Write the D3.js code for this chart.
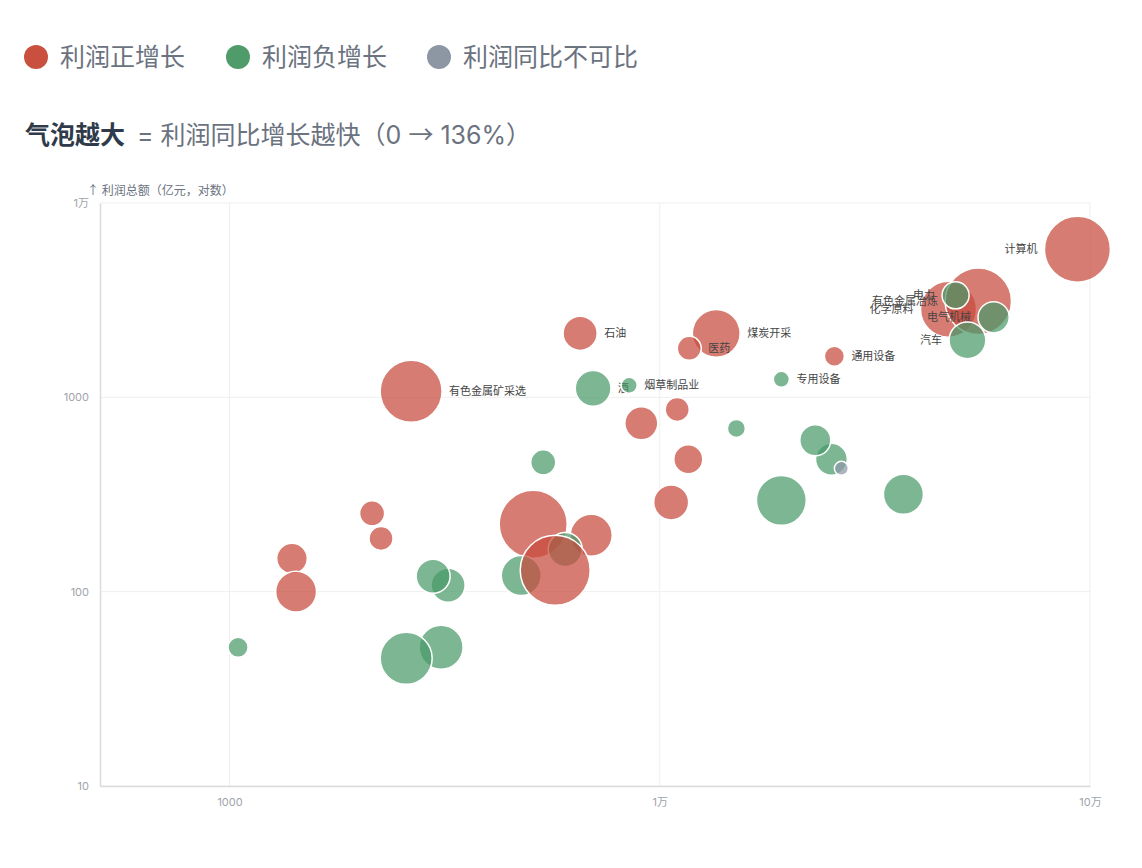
<!DOCTYPE html>
<html><head><meta charset="utf-8">
<script src="https://cdn.jsdelivr.net/npm/d3@7"></script>
<style>
body{margin:0;background:#fff;}
svg{display:block;font-family:Inter,"Noto Sans CJK SC","Noto Sans",sans-serif;}
</style>
</head><body>
<svg id="chart" width="1142" height="868"></svg>
<script>
// ---- data (draw order) ----
const labels = ["计算机","化学原料","有色金属冶炼","电力","电气机械","汽车","石油","煤炭开采","医药","通用设备","专用设备","酒","烟草制品业","有色金属矿采选",
  "","","","","","","","","","","","","","","","","","","","","","","","",""];
// 营业收入（亿元）
const revenue = [93500,46900,55000,48700,59700,51900,6530,13530,11710,25460,19170,7000,8490,2643,
  10980,9060,15070,25060,22990,26430,11650,5360,19170,36840,10630,5080,6930,6030,4765,5715,2145,2250,1397,1428,3222,2973,1047,3103,2574];
// 利润总额（亿元）
const profit = [5780,2840,3120,3350,2580,1965,2135,2135,1787,1626,1238,1113,1153,1074,
  867,735,692,480,601,431,480,463,295,317,288,222,195,165,121,129,253,188,148,100,108,120,51.7,51.7,45.4];
// 利润同比增长（%），null = 不可比
const growth = [118,80,120,-11,-17,-27,22,54,7.4,3.8,-1.4,-25,-1.4,102,
  7.4,20,-2.4,-18,-16.7,null,13.6,-8.5,-60,-34,23.6,127,38.7,-21.8,-34,136,8.5,7.4,16,36,-21.8,-21.8,-3.8,-43.7,-66.6];
const legendItems = ["利润正增长","利润负增长","利润同比不可比"];
const yTicks = [10,100,1000,10000];
const xTicks = [1000,10000,100000];

const fmt = v => v >= 10000 ? (v/10000) + "万" : String(v);
const CJK = '"Noto Sans CJK SC","Noto Sans",sans-serif';

const svg = d3.select("#chart");
const M = {left:100, right:1090, top:203, bottom:786};

const x = d3.scaleLog().domain([500,100000]).range([M.left,M.right]);
const y = d3.scaleLog().domain([10,10000]).range([M.bottom,M.top]);
const r = d3.scaleSqrt().domain([0,136]).range([5,35]);
const naR = 7;

const fillCol = {pos:"#c8493c", neg:"#4a9a6a", na:"#8e99a8"};
const legendCol = ["#c9503f","#4f9b69","#8d96a3"];

// legend
const lg = svg.append("g");
const lgX = [36,238,439];
legendItems.forEach((t,i)=>{
  lg.append("circle").attr("cx",lgX[i]).attr("cy",57).attr("r",12).attr("fill",legendCol[i]);
  lg.append("text").attr("x",lgX[i]+24).attr("y",57).attr("dy","0.35em")
    .attr("font-size",25).attr("fill","#6b7280").text(t);
});

// subtitle
const st = svg.append("text").attr("x",25).attr("y",135).attr("dy","0.35em").attr("font-size",25);
st.append("tspan").attr("font-weight","bold").attr("fill","#2f3a4a").text("气泡越大");
st.append("tspan").attr("fill","#6b7280").attr("dx",12).text("= 利润同比增长越快（0 ");
st.append("tspan").attr("fill","#6b7280").attr("font-family",CJK).text("→");
st.append("tspan").attr("fill","#6b7280").text(" 136%）");

// y axis title
svg.append("text").attr("x",87).attr("y",191).attr("dy","0.35em").attr("font-size",12)
  .attr("font-family",CJK).attr("fill","#6b7280").text("↑ 利润总额（亿元，对数）");

// grid
const grid = svg.append("g");
grid.selectAll(".gy").data(yTicks).join("line")
  .attr("x1",M.left).attr("x2",M.right).attr("y1",d=>y(d)).attr("y2",d=>y(d))
  .attr("stroke","#efefef").attr("stroke-width",1);
grid.selectAll(".gx").data(xTicks).join("line")
  .attr("y1",M.top).attr("y2",M.bottom).attr("x1",d=>x(d)).attr("x2",d=>x(d))
  .attr("stroke","#efefef").attr("stroke-width",1);

// axes
const ya = svg.append("g").attr("transform",`translate(${M.left},0)`)
  .call(d3.axisLeft(y).tickValues(yTicks).tickFormat(fmt).tickSize(0).tickPadding(11));
const xa = svg.append("g").attr("transform",`translate(0,${M.bottom})`)
  .call(d3.axisBottom(x).tickValues(xTicks).tickFormat(fmt).tickSize(0).tickPadding(12));
[ya,xa].forEach(a=>{
  a.select(".domain").attr("stroke","#dcdcdc").attr("stroke-width",1.5);
  a.selectAll("text").attr("fill","#a0a4ab").attr("font-size",11)
    .attr("font-family",'Inter,"Noto Sans CJK SC","Noto Sans",sans-serif');
});

// bubbles
const data = labels.map((l,i)=>({label:l, xv:revenue[i], yv:profit[i], g:growth[i]}));
const gs = svg.append("g").selectAll("g").data(data).join("g");
gs.append("circle")
  .attr("cx",d=>x(d.xv)).attr("cy",d=>y(d.yv))
  .attr("r",d=>d.g===null?naR:r(Math.abs(d.g)))
  .attr("fill",d=>d.g===null?fillCol.na:(d.g>=0?fillCol.pos:fillCol.neg))
  .attr("fill-opacity",0.72)
  .attr("stroke","#fff").attr("stroke-width",1.5);
gs.filter(d=>d.label).append("text")
  .attr("x",d=>{const rr=d.g===null?naR:r(Math.abs(d.g)); return d.xv>40000? x(d.xv)-rr-7 : x(d.xv)+rr+7;})
  .attr("y",d=>y(d.yv)).attr("dy","0.35em")
  .attr("text-anchor",d=>d.xv>40000?"end":"start")
  .attr("font-size",11).attr("font-family",CJK).attr("fill","#444")
  .text(d=>d.label);
</script>
</body></html>
